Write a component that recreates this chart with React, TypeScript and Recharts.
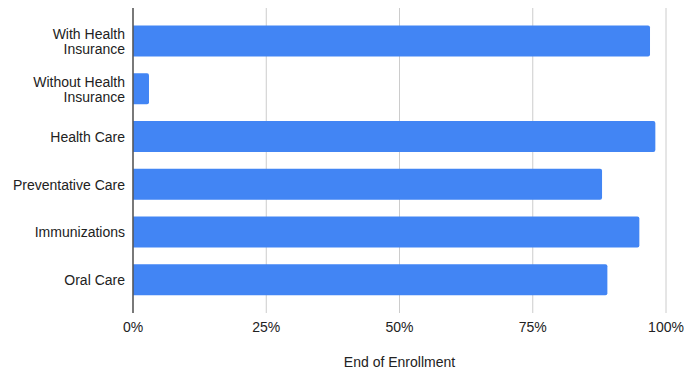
import React from 'react';
import {
  BarChart,
  Bar,
  XAxis,
  YAxis,
  CartesianGrid,
} from 'recharts';

const categories = [
  'With Health Insurance',
  'Without Health Insurance',
  'Health Care',
  'Preventative Care',
  'Immunizations',
  'Oral Care',
];

const endOfEnrollment = [97, 3, 98, 88, 95, 89];

const xTicks = [0, 25, 50, 75, 100];

const chartData = categories.map((name, i) => ({
  name,
  value: endOfEnrollment[i],
}));

const FONT = '"Liberation Sans", Arial, sans-serif';

// wrap long labels the way the original does (two lines max)
const wrapLabel = (text: string, maxChars = 18): string[] => {
  if (text.length <= maxChars) return [text];
  const words = text.split(' ');
  const lines: string[] = [];
  let cur = '';
  words.forEach((w) => {
    const next = cur ? `${cur} ${w}` : w;
    if (next.length > maxChars && cur) {
      lines.push(cur);
      cur = w;
    } else {
      cur = next;
    }
  });
  if (cur) lines.push(cur);
  return lines;
};

const CategoryTick = (props: any) => {
  const { x, y, payload } = props;
  const lines = wrapLabel(payload.value);
  const lineHeight = 15;
  const startY = y - ((lines.length - 1) * lineHeight) / 2;
  return (
    <text
      x={x}
      y={startY}
      textAnchor="end"
      fill="#222"
      fontSize={14}
      fontFamily={FONT}
      dominantBaseline="central"
    >
      {lines.map((line, i) => (
        <tspan key={i} x={x} y={startY + i * lineHeight} dominantBaseline="central">
          {line}
        </tspan>
      ))}
    </text>
  );
};

export default function App() {
  return (
    <div style={{ position: 'absolute', left: 0, top: 0, background: '#fff' }}>
      <BarChart
        width={684}
        height={374}
        data={chartData}
        layout="vertical"
        margin={{ top: 8, right: 18, left: 0, bottom: 0 }}
      >
        <CartesianGrid
          horizontal={false}
          stroke="#cccccc"
          strokeWidth={1}
        />
        <XAxis
          type="number"
          domain={[0, 100]}
          ticks={xTicks}
          tickFormatter={(v: number) => `${v}%`}
          axisLine={false}
          tickLine={false}
          tickMargin={3}
          height={61}
          tick={{ fill: '#222', fontSize: 14, fontFamily: FONT }}
          label={{
            value: 'End of Enrollment',
            position: 'insideBottom',
            offset: 7,
            fill: '#222',
            fontSize: 14,
            fontFamily: FONT,
          }}
        />
        <YAxis
          type="category"
          dataKey="name"
          width={133}
          padding={{ top: 9.5, bottom: 9 }}
          axisLine={{ stroke: '#555', strokeWidth: 1.5 }}
          tickLine={false}
          tick={<CategoryTick />}
          interval={0}
        />
        <Bar
          dataKey="value"
          fill="#4285f4"
          barSize={31}
          radius={[0, 2, 2, 0]}
          isAnimationActive={false}
        />
      </BarChart>
    </div>
  );
}
